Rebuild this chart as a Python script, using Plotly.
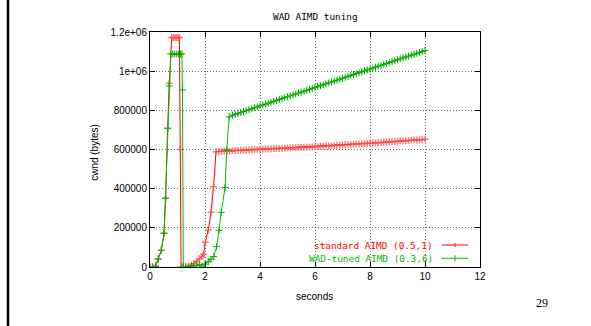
import plotly.graph_objects as go

# ---------------- data ----------------
red_name = "standard AIMD (0.5,1)"
green_name = "WAD-tuned AIMD (0.3,6)"

red_t = [0.0, 0.1, 0.2, 0.3, 0.41, 0.51, 0.57, 0.64, 0.70, 0.79, 0.85, 0.91, 0.97, 1.03, 1.07,
         1.10, 1.13, 1.2, 1.3, 1.4, 1.5, 1.6, 1.7, 1.8, 1.9, 1.95, 2.01, 2.12, 2.22, 2.31, 2.40,
         2.5, 2.6, 2.7, 2.8, 2.9, 3.0, 3.1, 3.2, 3.3, 3.4, 3.5, 3.6, 3.7, 3.8, 3.9,
         4.0, 4.1, 4.2, 4.3, 4.4, 4.5, 4.6, 4.7, 4.8, 4.9,
         5.0, 5.1, 5.2, 5.3, 5.4, 5.5, 5.6, 5.7, 5.8, 5.9,
         6.0, 6.1, 6.2, 6.3, 6.4, 6.5, 6.6, 6.7, 6.8, 6.9,
         7.0, 7.1, 7.2, 7.3, 7.4, 7.5, 7.6, 7.7, 7.8, 7.9,
         8.0, 8.1, 8.2, 8.3, 8.4, 8.5, 8.6, 8.7, 8.8, 8.9,
         9.0, 9.1, 9.2, 9.3, 9.4, 9.5, 9.6, 9.7, 9.8, 9.9, 10.0]
red_v = [0, 0, 5000, 41000, 85000, 172000, 351000, 708000, 938000, 1172000, 1172000, 1172000, 1172000, 1172000, 1172000,
         600000, 0, 0, 1000, 4000, 10000, 18000, 30000, 42000, 55000, 65000, 126000, 189000, 279000, 410000, 589000,
         589800, 590500, 591300, 592000, 592800, 593500, 594300, 595000, 595800, 596500, 597300, 598000, 598800, 599500, 600300,
         601000, 601700, 602300, 603000, 603600, 604300, 604900, 605600, 606200, 606900,
         607500, 608200, 608800, 609500, 610100, 610800, 611400, 612100, 612700, 613400,
         614000, 614900, 615800, 616700, 617600, 618500, 619400, 620300, 621200, 622100,
         623000, 623900, 624800, 625700, 626600, 627500, 628400, 629300, 630200, 631100,
         632000, 633000, 634000, 635000, 636000, 637000, 638000, 639000, 640000, 641000,
         642000, 643000, 644000, 645000, 646000, 647000, 648000, 649000, 650000, 651000, 652000]

green_t = [0.0, 0.1, 0.2, 0.3, 0.41, 0.51, 0.56, 0.64, 0.70, 0.76, 0.83, 0.90, 0.97, 1.04, 1.11, 1.16,
           1.18, 1.21, 1.3, 1.4, 1.5, 1.6, 1.7, 1.8, 1.9, 2.0, 2.12, 2.22, 2.32, 2.42, 2.51, 2.59, 2.73, 2.79, 2.88,
           3.0, 3.1, 3.2, 3.3, 3.4, 3.5, 3.6, 3.7, 3.8, 3.9,
           4.0, 4.1, 4.2, 4.3, 4.4, 4.5, 4.6, 4.7, 4.8, 4.9,
           5.0, 5.1, 5.2, 5.3, 5.4, 5.5, 5.6, 5.7, 5.8, 5.9,
           6.0, 6.1, 6.2, 6.3, 6.4, 6.5, 6.6, 6.7, 6.8, 6.9,
           7.0, 7.1, 7.2, 7.3, 7.4, 7.5, 7.6, 7.7, 7.8, 7.9,
           8.0, 8.1, 8.2, 8.3, 8.4, 8.5, 8.6, 8.7, 8.8, 8.9,
           9.0, 9.1, 9.2, 9.3, 9.4, 9.5, 9.6, 9.7, 9.8, 9.9, 10.0]
green_v = [0, 0, 3000, 41000, 85000, 172000, 351000, 708000, 925000, 1088000, 1088000, 1088000, 1088000, 1088000, 1088000, 1088000,
           904000, 0, 0, 1000, 3000, 5000, 8000, 12000, 5000, 15000, 27000, 40000, 53000, 104000, 187000, 279000, 407000, 597000, 767000,
           775000, 779700, 784400, 789200, 793900, 798600, 803300, 808000, 812800, 817500,
           822200, 826900, 831600, 836400, 841100, 845800, 850500, 855200, 860000, 864700,
           869400, 874100, 878800, 883600, 888300, 893000, 897700, 902400, 907200, 911900,
           916600, 921300, 926000, 930800, 935500, 940200, 944900, 949600, 954400, 959100,
           963800, 968500, 973200, 978000, 982700, 987400, 992100, 996800, 1001600, 1006300,
           1011000, 1015700, 1020400, 1025200, 1029900, 1034600, 1039300, 1044000, 1048800, 1053500,
           1058200, 1062900, 1067600, 1072400, 1077100, 1081800, 1086500, 1091200, 1096000, 1100700, 1105400]

x_ticks = [0, 2, 4, 6, 8, 10, 12]
x_ticklabels = ["0", "2", "4", "6", "8", "10", "12"]
y_ticks = [0, 200000, 400000, 600000, 800000, 1000000, 1200000]
y_ticklabels = ["0", "200000", "400000", "600000", "800000", "1e+06", "1.2e+06"]

title_text = "WAD AIMD tuning"
x_label = "seconds"
y_label = "cwnd (bytes)"
page_number = "29"

# ---------------- style ----------------
RED = "#ff0000"
RED_MARK = "rgba(255,70,70,0.7)"
GREEN = "#00c000"
GREEN_MARK = "#00b000"
MONO = "DejaVu Sans Mono"
SANS = "Liberation Sans"

fig = go.Figure()
fig.add_trace(go.Scatter(
    x=red_t, y=red_v, mode="lines+markers", name=red_name, showlegend=False,
    line=dict(color=RED, width=1),
    marker=dict(symbol="cross-thin", size=5, line=dict(color=RED_MARK, width=1.5)),
))
fig.add_trace(go.Scatter(
    x=green_t, y=green_v, mode="lines+markers", name=green_name, showlegend=False,
    line=dict(color=GREEN, width=1),
    marker=dict(symbol="cross-thin", size=5, line=dict(color=GREEN_MARK, width=1)),
))

axis_common = dict(
    showline=True, linecolor="black", linewidth=1, mirror="allticks",
    ticks="inside", ticklen=5, tickcolor="black", tickwidth=1,
    showgrid=True, gridcolor="#707070", gridwidth=1, griddash="1px,2px",
    zeroline=False, tickfont=dict(family=SANS, size=10, color="black"),
)

fig.update_layout(
    width=591, height=326, autosize=False,
    margin=dict(l=150, r=111, t=32, b=59),
    paper_bgcolor="white", plot_bgcolor="white",
    xaxis=dict(range=[0, 12], tickvals=x_ticks, ticktext=x_ticklabels, **axis_common),
    yaxis=dict(range=[0, 1200000], tickvals=y_ticks, ticktext=y_ticklabels, **axis_common),
    showlegend=False,
)

ann = [
    dict(text=title_text, x=0.5, y=1.068, xref="paper", yref="paper", showarrow=False,
         xanchor="center", yanchor="middle", font=dict(family=MONO, size=9.4, color="black")),
    dict(text=x_label, x=0.497, y=-0.126, xref="paper", yref="paper", showarrow=False,
         xanchor="center", yanchor="middle", font=dict(family=SANS, size=10, color="black")),
    dict(text=y_label, x=-0.1667, y=0.49, xref="paper", yref="paper", showarrow=False, textangle=-90,
         xanchor="center", yanchor="middle", font=dict(family=SANS, size=10, color="black")),
    dict(text=page_number, x=1.187, y=-0.1545, xref="paper", yref="paper", showarrow=False,
         xanchor="center", yanchor="middle", font=dict(family="Liberation Serif", size=12, color="black")),
    dict(text=red_name, x=0.8636, y=0.0936, xref="paper", yref="paper", showarrow=False,
         xanchor="right", yanchor="middle", font=dict(family=MONO, size=9.4, color=RED)),
    dict(text=green_name, x=0.8636, y=0.037, xref="paper", yref="paper", showarrow=False,
         xanchor="right", yanchor="middle", font=dict(family=MONO, size=9.4, color=GREEN)),
]
fig.update_layout(annotations=ann)

shapes = [
    # left slide border
    dict(type="line", xref="paper", yref="paper", x0=-0.4303, x1=-0.4303, y0=-0.27, y1=1.15,
         line=dict(color="black", width=2.5)),
    # legend samples
    dict(type="line", xref="paper", yref="paper", x0=0.884, x1=0.9646, y0=0.0936, y1=0.0936,
         line=dict(color=RED, width=1)),
    dict(type="line", xref="paper", yref="paper", x0=0.884, x1=0.9646, y0=0.037, y1=0.037,
         line=dict(color=GREEN, width=1)),
    dict(type="line", xref="paper", yref="paper", xsizemode="pixel", ysizemode="pixel",
         xanchor=0.9242, yanchor=0.0936, x0=0, x1=0, y0=-2, y1=2, line=dict(color=RED_MARK, width=2)),
    dict(type="line", xref="paper", yref="paper", xsizemode="pixel", ysizemode="pixel",
         xanchor=0.9242, yanchor=0.037, x0=0, x1=0, y0=-3, y1=3, line=dict(color=GREEN_MARK, width=1)),
]
fig.update_layout(shapes=shapes)

fig.write_html("out.html", config={"displayModeBar": False},
               post_script="document.body.style.margin='0';document.body.style.overflow='hidden';")
